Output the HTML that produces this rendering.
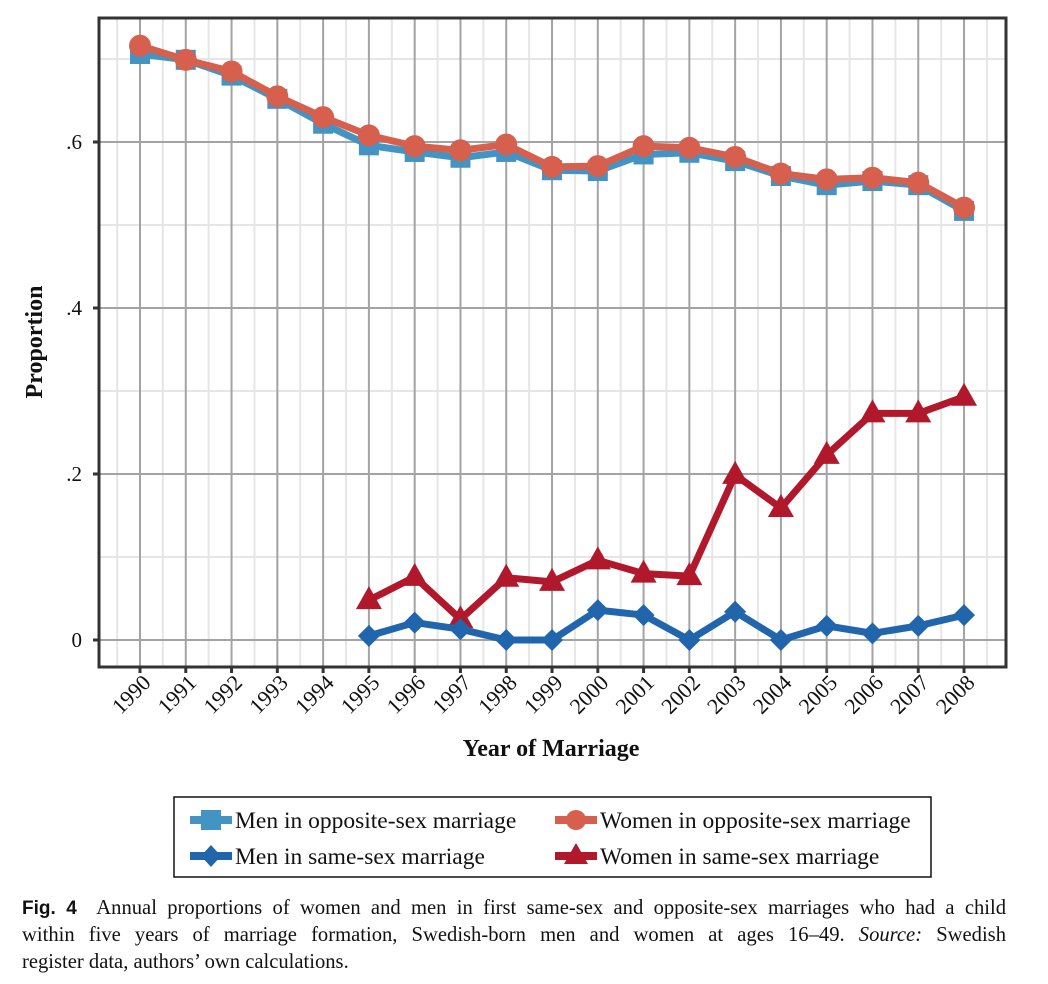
<!DOCTYPE html>
<html><head><meta charset="utf-8"><style>
body{margin:0;background:#fff;width:1048px;height:984px;overflow:hidden;position:relative;font-family:"Liberation Serif",serif}
#cap{position:absolute;left:22px;top:895px;width:984px;font-size:20.6px;line-height:27px;color:#111}
#cap div{text-align:justify;text-align-last:justify;white-space:nowrap}
#cap div.last{text-align-last:left}
#cap b{font-family:"Liberation Sans",sans-serif;font-size:19px}
</style></head><body>
<svg id="chart" width="1048" height="890" style="position:absolute;left:0;top:0" font-family="Liberation Serif, serif"></svg>
<div id="cap"><div><b>Fig. 4</b>&nbsp; Annual proportions of women and men in first same-sex and opposite-sex marriages who had a child</div><div>within five years of marriage formation, Swedish-born men and women at ages 16–49. <i>Source:</i> Swedish</div><div class="last">register data, authors’ own calculations.</div></div>
<script>
const years=[1990,1991,1992,1993,1994,1995,1996,1997,1998,1999,2000,2001,2002,2003,2004,2005,2006,2007,2008];
const menOpp=[.706,.699,.680,.652,.622,.596,.588,.581,.588,.566,.565,.585,.587,.577,.559,.548,.553,.548,.517];
const womenOpp=[.716,.699,.685,.655,.630,.608,.595,.590,.597,.570,.571,.595,.593,.582,.562,.555,.557,.551,.521];
const sameYears=[1995,1996,1997,1998,1999,2000,2001,2002,2003,2004,2005,2006,2007,2008];
const womenSame=[.048,.076,.025,.075,.070,.096,.080,.077,.199,.159,.223,.273,.273,.293];
const menSame=[.005,.021,.013,0,0,.036,.030,0,.034,0,.017,.008,.017,.030];
const yTicks=[0,.2,.4,.6];
const yTickLabels=["0",".2",".4",".6"];
const NS="http://www.w3.org/2000/svg";
const svg=document.getElementById('chart');
const X=y=>140+(y-1990)*45.78;
const Y=v=>640-v*830;
function el(t,a,p){const e=document.createElementNS(NS,t);for(const k in a)e.setAttribute(k,a[k]);(p||svg).appendChild(e);return e;}
for(let i=0;i<=19;i++){const x=X(1990+i-0.5);const g=el('line',{x1:x,x2:x,y1:19,y2:666,stroke:'#e6e6e6','stroke-width':2});

}
for(let v=0.1;v<0.75;v+=0.2){const y=Y(v);const g=el('line',{x1:100,x2:1005,y1:y,y2:y,stroke:'#e6e6e6','stroke-width':2});

}
years.forEach(yr=>{const x=X(yr);const g=el('line',{x1:x,x2:x,y1:19,y2:666,stroke:'#a3a3a3','stroke-width':2});


el('line',{x1:x,x2:x,y1:667,y2:673,stroke:'#333','stroke-width':3});
const l=el('text',{x:0,y:0,'font-size':22,'text-anchor':'end',transform:`translate(${x+12},${684}) rotate(-45)`,fill:'#111'});
l.textContent=yr;

});
yTicks.forEach((v,i)=>{const y=Y(v);const g=el('line',{x1:100,x2:1005,y1:y,y2:y,stroke:'#a3a3a3','stroke-width':2});


el('line',{x1:93,x2:99,y1:y,y2:y,stroke:'#333','stroke-width':3});
const l=el('text',{x:82,y:y+7,'font-size':21,'text-anchor':'end',fill:'#111'});
l.textContent=yTickLabels[i];

});
const fr=el('rect',{x:99,y:18,width:907,height:649,fill:'none',stroke:'#333','stroke-width':3});


function series(xs,vals,color,shape,name){
const g=el('g',{});


el('polyline',{points:xs.map((y,i)=>X(y)+','+Y(vals[i])).join(' '),fill:'none',stroke:color,'stroke-width':7,'stroke-linejoin':'round'},g);
xs.forEach((yr,i)=>{const x=X(yr),y=Y(vals[i]);let m;
if(shape==='sq')m=el('rect',{x:x-10,y:y-10,width:20,height:20,fill:color},g);
else if(shape==='ci')m=el('circle',{cx:x,cy:y,r:11,fill:color},g);
else if(shape==='tri')m=el('polygon',{points:`${x},${y-14} ${x-13},${y+9} ${x+13},${y+9}`,fill:color},g);
else m=el('polygon',{points:`${x},${y-11} ${x+11},${y} ${x},${y+11} ${x-11},${y}`,fill:color},g);

});}
series(years,menOpp,'#4393c3','sq','series-men-opposite-sex');
series(years,womenOpp,'#d6604d','ci','series-women-opposite-sex');
series(sameYears,womenSame,'#b2182b','tri','series-women-same-sex');
series(sameYears,menSame,'#2166ac','di','series-men-same-sex');
const yt=el('text',{transform:'translate(42,342) rotate(-90)','font-size':24,'font-weight':'bold','text-anchor':'middle',fill:'#111'});
yt.textContent='Proportion';


const xt=el('text',{x:551,y:756,'font-size':24,'font-weight':'bold','text-anchor':'middle',fill:'#111'});
xt.textContent='Year of Marriage';


const lg=el('g',{});


el('rect',{x:174,y:797,width:757,height:80,fill:'#fff',stroke:'#111','stroke-width':1.5},lg);
const items=[[190,820,'#4393c3','sq','Men in opposite-sex marriage'],[555,820,'#d6604d','ci','Women in opposite-sex marriage'],[190,856,'#2166ac','di','Men in same-sex marriage'],[555,856,'#b2182b','tri','Women in same-sex marriage']];
items.forEach(([x,y,c,s,t])=>{const g=el('g',{},lg);


el('line',{x1:x,x2:x+42,y1:y,y2:y,stroke:c,'stroke-width':8},g);
const cx=x+21;
if(s==='sq')el('rect',{x:cx-10,y:y-10,width:20,height:20,fill:c},g);
else if(s==='ci')el('circle',{cx,cy:y,r:10,fill:c},g);
else if(s==='tri')el('polygon',{points:`${cx},${y-13} ${cx-12},${y+8} ${cx+12},${y+8}`,fill:c},g);
else el('polygon',{points:`${cx},${y-11} ${cx+10},${y} ${cx},${y+11} ${cx-10},${y}`,fill:c},g);
const tx=el('text',{x:x+45,y:y+8,'font-size':23.5,fill:'#111'},g);tx.textContent=t;});
</script>
</body></html>
